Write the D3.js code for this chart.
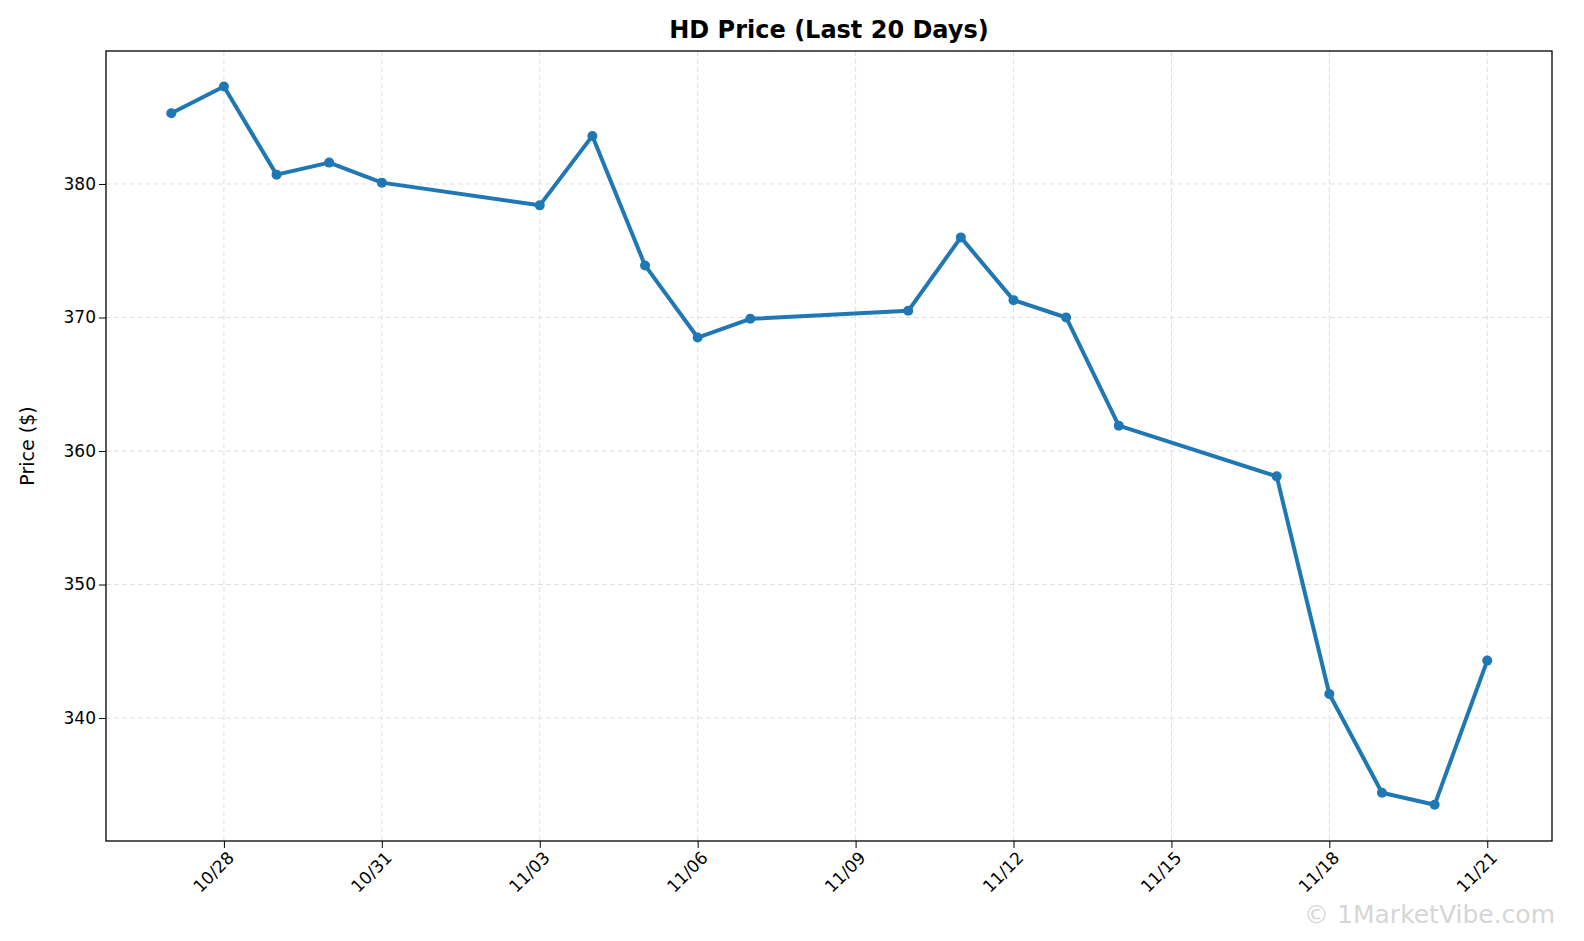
<!DOCTYPE html>
<html><head><meta charset="utf-8">
<script src="https://cdn.jsdelivr.net/npm/d3@7"></script>
<style>html,body{margin:0;overflow:hidden;background:#fff;font-family:"DejaVu Sans",sans-serif}svg{display:block}</style>
</head><body><svg id="c" width="1584" height="941"></svg>
<script>
var dates = ["2024-10-27","2024-10-28","2024-10-29","2024-10-30","2024-10-31","2024-11-03","2024-11-04","2024-11-05","2024-11-06","2024-11-07","2024-11-10","2024-11-11","2024-11-12","2024-11-13","2024-11-14","2024-11-17","2024-11-18","2024-11-19","2024-11-20","2024-11-21"];
var prices = [385.3,387.3,380.7,381.6,380.1,378.4,383.6,373.9,368.5,369.9,370.5,376.0,371.3,370.0,361.9,358.1,341.8,334.4,333.5,344.3];
var yTicks = [340,350,360,370,380];

var parse = d3.timeParse("%Y-%m-%d");
var data = dates.map((d,i) => ({date: parse(d), v: prices[i]}));
var L=106,R=1552,T=51,B=841;
var svg = d3.select("#c");
var day = 864e5;
var x = d3.scaleTime()
  .domain([new Date(parse("2024-10-28").getTime()-2.24*day), new Date(parse("2024-11-21").getTime()+1.23*day)])
  .range([L,R]);
var y = d3.scaleLinear().domain([330.79,389.96]).range([B,T]);
var xTicks = d3.timeDay.range(parse("2024-10-28"), parse("2024-11-22"), 3);

// grid
svg.append("g").selectAll("line").data(xTicks).enter().append("line")
  .attr("x1",d=>x(d)).attr("x2",d=>x(d)).attr("y1",T).attr("y2",B)
  .attr("stroke","#e0e0e0").attr("stroke-dasharray","5,3");
svg.append("g").selectAll("line").data(yTicks).enter().append("line")
  .attr("y1",d=>y(d)).attr("y2",d=>y(d)).attr("x1",L).attr("x2",R)
  .attr("stroke","#e0e0e0").attr("stroke-dasharray","5,3");

var xa = svg.append("g").attr("transform","translate(0,"+B+")")
  .call(d3.axisBottom(x).tickValues(xTicks).tickFormat(d3.timeFormat("%m/%d")).tickSizeOuter(0).tickSize(7));
xa.selectAll("text").attr("font-size",17).attr("font-family","DejaVu Sans").attr("fill","#000")
  .attr("text-anchor","end").attr("dx","-0.3em").attr("dy","0.6em").attr("transform","rotate(-45)");
var ya = svg.append("g").attr("transform","translate("+L+",0)")
  .call(d3.axisLeft(y).tickValues(yTicks).tickSizeOuter(0).tickSize(7));
ya.selectAll("text").attr("font-size",17).attr("font-family","DejaVu Sans").attr("fill","#000");
svg.selectAll(".domain").remove();
svg.append("rect").attr("x",L).attr("y",T).attr("width",R-L).attr("height",B-T)
  .attr("fill","none").attr("stroke","#000").attr("stroke-width",1.3);

svg.append("path").datum(data)
  .attr("d", d3.line().x(d=>x(d.date)).y(d=>y(d.v)))
  .attr("fill","none").attr("stroke","#1f77b4").attr("stroke-width",4).attr("stroke-linejoin","round");
svg.append("g").selectAll("circle").data(data).enter().append("circle")
  .attr("cx",d=>x(d.date)).attr("cy",d=>y(d.v)).attr("r",5).attr("fill","#1f77b4");

svg.append("text").attr("x",(L+R)/2).attr("y",38).attr("text-anchor","middle")
  .attr("font-size",24).attr("font-weight","bold").text("HD Price (Last 20 Days)");
svg.append("text").attr("transform","translate(34,"+((T+B)/2)+") rotate(-90)").attr("text-anchor","middle")
  .attr("font-size",19).text("Price ($)");
svg.append("text").attr("x",1555).attr("y",923).attr("text-anchor","end")
  .attr("font-size",25).attr("fill","#ccc").attr("opacity",0.8).text("© 1MarketVibe.com");
</script></body></html>
